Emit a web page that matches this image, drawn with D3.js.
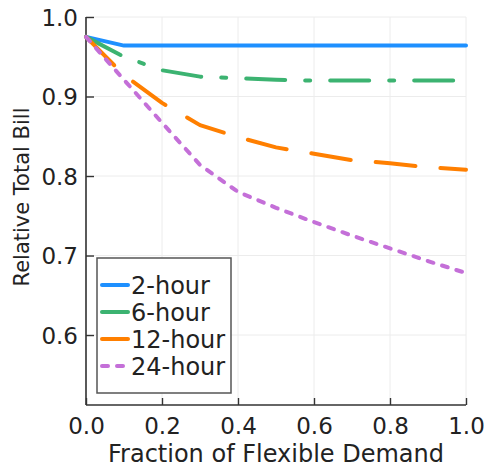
<!DOCTYPE html>
<html lang="en">
<head>
<meta charset="UTF-8">
<script src="https://d3js.org/d3.v7.min.js"></script>
<style>
  body { margin: 0; background: #fff; }
  text { font-family: "DejaVu Sans", sans-serif; fill: #222; }
</style>
</head>
<body>
<div id="chart"></div>
<script>
  const width = 485;
  const height = 470;

  // data
  const fractions = [0.0, 0.1, 0.2, 0.3, 0.4, 0.5, 0.6, 0.7, 0.8, 0.9, 1.0];
  const hour2  = [0.975, 0.964, 0.964, 0.964, 0.964, 0.964, 0.964, 0.964, 0.964, 0.964, 0.964];
  const hour6  = [0.975, 0.950, 0.933, 0.925, 0.923, 0.921, 0.920, 0.920, 0.920, 0.920, 0.920];
  const hour12 = [0.975, 0.927, 0.892, 0.864, 0.849, 0.836, 0.828, 0.820, 0.816, 0.811, 0.808];
  const hour24 = [0.975, 0.921, 0.867, 0.814, 0.780, 0.760, 0.742, 0.725, 0.709, 0.693, 0.678];
  const seriesNames = ["2-hour", "6-hour", "12-hour", "24-hour"];
  const xTicks = [0, 0.2, 0.4, 0.6, 0.8, 1.0];
  const yTicks = [0.6, 0.7, 0.8, 0.9, 1.0];

  const series = [
    { name: seriesNames[0], values: hour2,  color: "#1e90ff", dash: null },
    { name: seriesNames[1], values: hour6,  color: "#3cb371", dash: "39,20,5,20" },
    { name: seriesNames[2], values: hour12, color: "#ff7f00", dash: "40,25" },
    { name: seriesNames[3], values: hour24, color: "#c46fd8", dash: "6,9" }
  ];

  const margin = { left: 86, right: 19, top: 17, bottom: 65 };

  const svg = d3.select("#chart")
    .append("svg")
    .attr("width", width)
    .attr("height", height);

  const x = d3.scaleLinear().domain([0, 1]).range([margin.left, width - margin.right]);
  const y = d3.scaleLinear().domain([0.512, 1.0]).range([height - margin.bottom, margin.top]);

  // grid
  svg.append("g")
    .selectAll("line.vx")
    .data(xTicks)
    .join("line")
    .attr("x1", d => x(d)).attr("x2", d => x(d))
    .attr("y1", y.range()[0]).attr("y2", y.range()[1])
    .attr("stroke", "#ececec").attr("stroke-width", 1);
  svg.append("g")
    .selectAll("line.hy")
    .data(yTicks)
    .join("line")
    .attr("x1", x.range()[0]).attr("x2", x.range()[1])
    .attr("y1", d => y(d)).attr("y2", d => y(d))
    .attr("stroke", "#ececec").attr("stroke-width", 1);

  // axes (inward ticks)
  const xAxis = d3.axisBottom(x).tickValues(xTicks).tickSize(-7).tickFormat(d3.format(".1f")).tickPadding(13);
  const yAxis = d3.axisLeft(y).tickValues(yTicks).tickSize(-8).tickFormat(d3.format(".1f")).tickPadding(16);

  const gx = svg.append("g")
    .attr("transform", `translate(0,${y.range()[0]})`)
    .call(xAxis);
  const gy = svg.append("g")
    .attr("transform", `translate(${x.range()[0]},0)`)
    .call(yAxis);

  [gx, gy].forEach(g => {
    g.select(".domain").attr("stroke", "#333").attr("stroke-width", 1.6);
    g.selectAll(".tick line").attr("stroke", "#333").attr("stroke-width", 1.4);
    g.selectAll(".tick text").attr("font-size", 23).attr("fill", "#222")
      .attr("font-family", "DejaVu Sans");
  });
  gx.select(".domain").attr("d", `M${x.range()[0]},0H${x.range()[1]}`);
  gy.select(".domain").attr("d", `M0,${y.range()[0]}V${y.range()[1]}`);
  gx.selectAll(".tick text").attr("dy", "0.71em");
  gy.selectAll(".tick text").attr("dy", "0.36em").attr("x", -8);

  // lines
  const line = d3.line()
    .x((d, i) => x(fractions[i]))
    .y(d => y(d));

  svg.append("g")
    .selectAll("path")
    .data(series)
    .join("path")
    .attr("d", d => line(d.values))
    .attr("fill", "none")
    .attr("stroke", d => d.color)
    .attr("stroke-width", 4)
    .attr("stroke-linecap", "round")
    .attr("stroke-linejoin", "round")
    .attr("stroke-dasharray", d => d.dash);

  // legend
  const legend = svg.append("g").attr("transform", "translate(97,258)");
  legend.append("rect")
    .attr("width", 134).attr("height", 135)
    .attr("fill", "#fff").attr("stroke", "#555").attr("stroke-width", 1.5);
  const items = legend.selectAll("g.item")
    .data(series)
    .join("g")
    .attr("transform", (d, i) => `translate(0,${27 + i * 27})`);
  items.append("line")
    .attr("x1", 5).attr("x2", 31)
    .attr("stroke", d => d.color)
    .attr("stroke-width", 4)
    .attr("stroke-linecap", "round")
    .attr("stroke-dasharray", d => d.name === "24-hour" ? "6,9" : null);
  items.append("text")
    .attr("x", 34)
    .attr("dy", "0.36em")
    .attr("font-size", 24)
    .text(d => d.name);

  // axis labels
  svg.append("text")
    .attr("x", (x.range()[0] + x.range()[1]) / 2)
    .attr("y", 462)
    .attr("text-anchor", "middle")
    .attr("font-size", 24)
    .text("Fraction of Flexible Demand");

  svg.append("text")
    .attr("transform", "translate(29,197) rotate(-90)")
    .attr("text-anchor", "middle")
    .attr("font-size", 21)
    .text("Relative Total Bill");
</script>
</body>
</html>
